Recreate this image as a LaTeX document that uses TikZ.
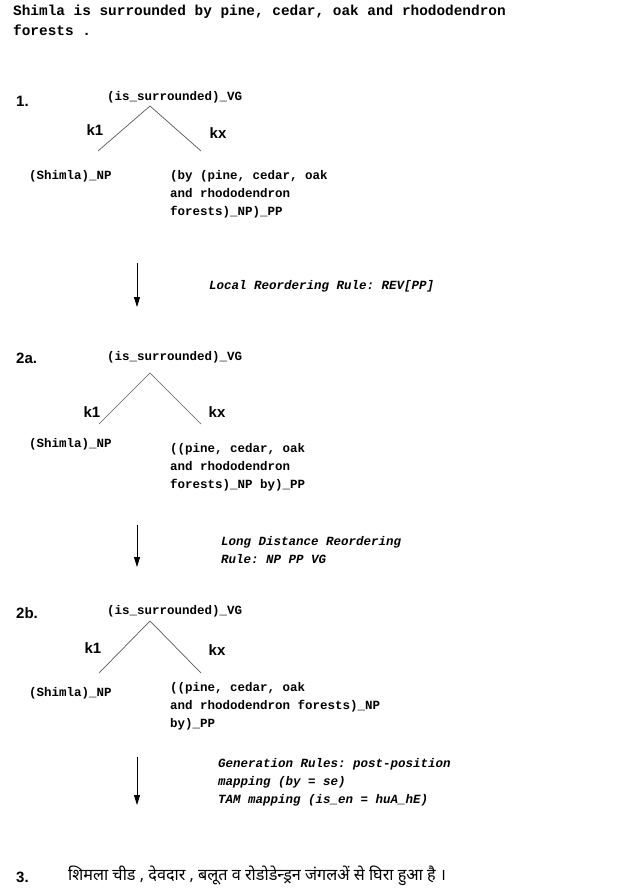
\documentclass[tikz,border=0pt]{standalone}
\usepackage{fontspec}
\setmainfont{Liberation Sans}
\setmonofont{Liberation Mono}
\newfontfamily\hindifont[Script=Devanagari]{Noto Sans}
\usetikzlibrary{arrows.meta}

\begin{document}
\begin{tikzpicture}[
    x=1pt, y=-1pt,
    titletxt/.style={font=\ttfamily\bfseries\fontsize{14.4}{20}\selectfont, inner sep=0pt,
                     anchor=north west, align=left},
    mono/.style={font=\ttfamily\bfseries\fontsize{12.5}{18}\selectfont, inner sep=0pt},
    ruletxt/.style={font=\ttfamily\bfseries\itshape\fontsize{12.5}{18}\selectfont, inner sep=0pt,
                    align=left},
    num/.style={font=\bfseries\fontsize{15}{17}\selectfont, inner sep=0pt, anchor=west},
    rel/.style={font=\bfseries\fontsize{15}{17}\selectfont, inner sep=0pt},
    branch/.style={draw=black!65, line width=0.7pt},
    downarr/.style={draw=black, line width=0.8pt, -{Triangle[length=10pt, width=6pt]}}
  ]
  \useasboundingbox (0,0) rectangle (616,890);

  % Sentence
  \node[titletxt] (title) at (13,5)
        {Shimla is surrounded by pine, cedar, oak and rhododendron\\forests .};

  % Tree 1
  \node[num] (n1) at (16,101) {1.};
  \node[mono, anchor=west] (vg1) at (107,97) {(is\_surrounded)\_VG};
  \coordinate (top1) at (150,106);
  \coordinate (l1) at (98,151);
  \coordinate (r1) at (201,151);
  \draw[branch] (l1) -- (top1) -- (r1);
  \node[rel] (ka1) at (95,130) {k1};
  \node[rel] (kb1) at (218,133) {kx};
  \node[mono, anchor=west] (np1) at (29,176) {(Shimla)\_NP};
  \node[mono, anchor=north west, align=left] (pp1) at (170,170)
        {(by (pine, cedar, oak\\and rhododendron\\forests)\_NP)\_PP};

  % Local reordering
  \coordinate (a1s) at (137,263);
  \coordinate (a1e) at (137,307);
  \draw[downarr] (a1s) -- (a1e);
  \node[ruletxt, anchor=west] (rule1) at (209,286) {Local Reordering Rule: REV[PP]};

  % Tree 2a
  \node[num] (n2) at (16,358) {2a.};
  \node[mono, anchor=west] (vg2) at (107,357) {(is\_surrounded)\_VG};
  \coordinate (top2) at (150,373);
  \coordinate (l2) at (99,424);
  \coordinate (r2) at (201,424);
  \draw[branch] (l2) -- (top2) -- (r2);
  \node[rel] (ka2) at (92,412) {k1};
  \node[rel] (kb2) at (217,412) {kx};
  \node[mono, anchor=west] (np2) at (29,444) {(Shimla)\_NP};
  \node[mono, anchor=north west, align=left] (pp2) at (170,443)
        {((pine, cedar, oak\\and rhododendron\\forests)\_NP by)\_PP};

  % Long distance reordering
  \coordinate (a2s) at (137,525);
  \coordinate (a2e) at (137,567);
  \draw[downarr] (a2s) -- (a2e);
  \node[ruletxt, anchor=north west] (rule2) at (221,536)
        {Long Distance Reordering\\Rule: NP PP VG};

  % Tree 2b
  \node[num] (n3) at (16,613) {2b.};
  \node[mono, anchor=west] (vg3) at (107,611) {(is\_surrounded)\_VG};
  \coordinate (top3) at (150,621);
  \coordinate (l3) at (99,673);
  \coordinate (r3) at (201,673);
  \draw[branch] (l3) -- (top3) -- (r3);
  \node[rel] (ka3) at (93,648) {k1};
  \node[rel] (kb3) at (217,650) {kx};
  \node[mono, anchor=west] (np3) at (29,693) {(Shimla)\_NP};
  \node[mono, anchor=north west, align=left] (pp3) at (170,682)
        {((pine, cedar, oak\\and rhododendron forests)\_NP\\by)\_PP};

  % Generation
  \coordinate (a3s) at (137,757);
  \coordinate (a3e) at (137,805);
  \draw[downarr] (a3s) -- (a3e);
  \node[ruletxt, anchor=north west] (rule3) at (218,758)
        {Generation Rules: post-position\\mapping (by = se)\\TAM mapping (is\_en = huA\_hE)};

  % Hindi output
  \node[num] (n4) at (16,877) {3.};
  \node[inner sep=0pt, anchor=west, font=\hindifont\fontsize{16.2}{19}\selectfont] (hin) at (68,876)
        {शिमला चीड , देवदार , बलूत व रोडोडेन्ड्रन जंगलअें से घिरा हुआ है ।};
\end{tikzpicture}
\end{document}
